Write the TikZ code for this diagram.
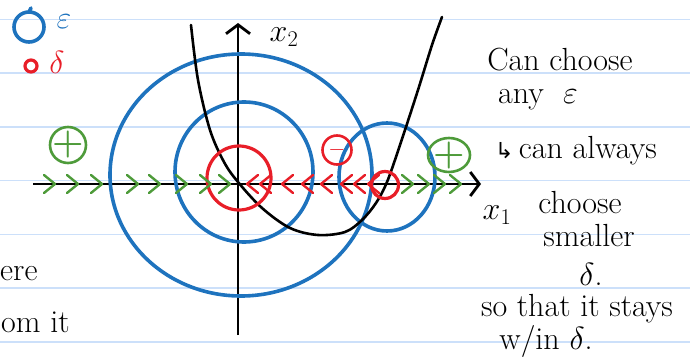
\documentclass[tikz,border=0pt]{standalone}
\usepackage{fix-cm}
\usepackage{amssymb}
\usepackage{fontspec}
\usepackage{tikz}
\usetikzlibrary{arrows.meta,positioning}
\newfontfamily\arrowfont{DejaVu Sans}
\definecolor{penblue}{RGB}{30,115,190}
\definecolor{penred}{RGB}{232,30,40}
\definecolor{pengreen}{RGB}{78,155,58}
\definecolor{ruleblue}{RGB}{204,224,250}
\tikzset{
    ruleline/.style={line width=1.6pt, ruleblue},
    axisline/.style={
        line width=2.8pt,
        black,
        -{Straight Barb[length=9pt, width=24pt, line width=2.8pt]}
    },
    % 画圈的样式
    epsring/.style={line width=3.6pt, penblue},
    deltaring/.style={line width=3.2pt, penred},
    signring/.style={line width=2.6pt},
    curveline/.style={line width=2.6pt, black, line cap=round},
    rightchev/.style={line width=2.4pt, pengreen, line cap=round, line join=round},
    leftchev/.style={line width=2.4pt, penred, line cap=round, line join=round},
    hand/.style={black, font=\fontsize{32}{38}\selectfont, inner sep=0pt},
    signmark/.style={font=\fontsize{36}{40}\selectfont\bfseries, inner sep=0pt}
}

\begin{document}
\begin{tikzpicture}[x=1pt, y=-1pt]
    \useasboundingbox (0,0) rectangle (690,358);
    % ruled paper
    \foreach \k in {0,...,6}
        \draw[ruleline] (0,19.5+53.7*\k) -- (690,19.5+53.7*\k);

    % legend
    \draw[epsring] (29,27) circle (15);
    \draw[epsring, line cap=round] (29,12) -- (31,8);
    \node[hand, text=penblue] (legeps) at (64,22) {$\varepsilon$};
    \draw[deltaring] (31,66) circle (6);
    \node[hand, text=penred] (legdelta) at (57,62) {$\delta$};

    % axes
    \coordinate (xstart) at (33,184);
    \coordinate (xend) at (481,184);
    \coordinate (ystart) at (238,335);
    \coordinate (yend) at (238,23);
    \coordinate (O) at (238,184);
    \draw[axisline] (xstart) -- (xend);
    \draw[axisline] (ystart) -- (yend);
    \node[hand] (xone) at (497,215) {$x_1$};
    \node[hand] (xtwo) at (284,37) {$x_2$};

    % epsilon balls
    \draw[epsring] (241,175) ellipse (131 and 121);
    \draw[epsring] (244,172) ellipse (69 and 70);
    \draw[epsring] (387,177) ellipse (48 and 54);

    % the curve
    \draw[curveline] plot[smooth, tension=0.55] coordinates {
        (191,25) (198,80) (210,130) (224,162) (238,182) (262,208)
        (290,228) (318,235) (345,232) (362,220) (376,203) (387,182)
        (400,145) (418,90) (432,45) (442,17)};

    % delta balls
    \draw[deltaring] (239,178) circle (32);
    \draw[deltaring] (385,185) circle (13.5);

    % flow direction
    \foreach \p in {50,73,97,133,155,182,206,225,408,424,440,456}
        \draw[rightchev] (\p-6,175) -- (\p+5,184) -- (\p-6,193);
    \foreach \p in {252,265,287,307,326,346,359,373}
        \draw[leftchev] (\p+6,175) -- (\p-5,184) -- (\p+6,193);

    % signs
    \draw[signring, pengreen] (68,145) circle (18);
    \node[signmark, text=pengreen] (plusL) at (68,145) {+};
    \draw[signring, penred] (337,150) circle (14.5);
    \node[signmark, text=penred, font=\fontsize{22}{26}\selectfont] (minus) at (337,150) {$-$};
    \draw[signring, pengreen] (449,155) ellipse (21 and 17);
    \node[signmark, text=pengreen] (plusR) at (449,156) {+};

    % notes
    \node[hand] (n1) at (560,60) {Can choose};
    \node[hand] (n2) at (538,100) {any\ \ $\varepsilon$};
    \node[hand] (n3) at (576,151) {{\arrowfont\fontsize{22}{26}\selectfont ↳}\,can always};
    \node[hand] (n4) at (580,203) {choose};
    \node[hand] (n5) at (589,236) {smaller};
    \node[hand] (n6) at (591,274) {$\delta$.};
    \node[hand] (n7) at (577,309) {so that it stays};
    \node[hand] (n8) at (546,341) {w/in\ $\delta$.};
    \node[hand, anchor=west] (m1) at (0,274) {ere};
    \node[hand, anchor=west] (m2) at (1,322) {om it};
\end{tikzpicture}
\end{document}
